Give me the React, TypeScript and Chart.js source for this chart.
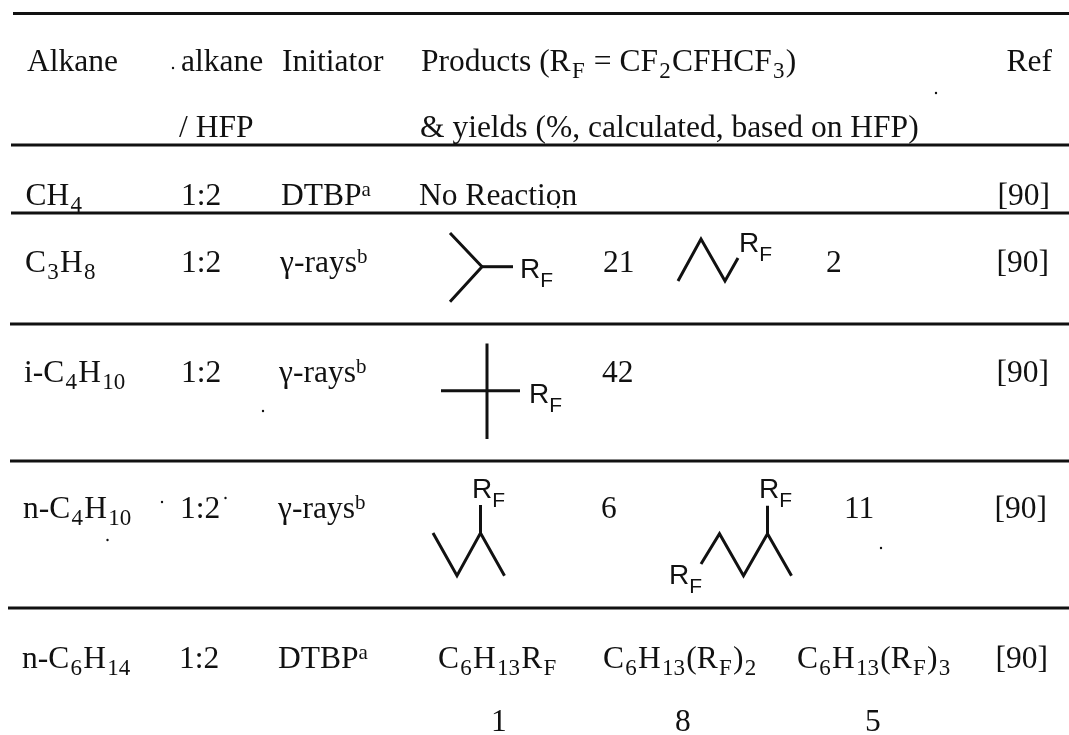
import React, { useEffect, useRef } from "react";
import { Chart, registerables } from "chart.js";

Chart.register(...registerables);

// ---- table content ----
const headerLine1 = ["Alkane", "alkane", "Initiator", "Products (R_{F} = CF_{2}CFHCF_{3})", "Ref"];
const headerLine2 = ["/ HFP", "& yields (%, calculated, based on HFP)"];
const alkanes = ["CH_{4}", "C_{3}H_{8}", "i-C_{4}H_{10}", "n-C_{4}H_{10}", "n-C_{6}H_{14}"];
const ratios = ["1:2", "1:2", "1:2", "1:2", "1:2"];
const initiators = ["DTBP^{a}", "γ-rays^{b}", "γ-rays^{b}", "γ-rays^{b}", "DTBP^{a}"];
const refs = ["[90]", "[90]", "[90]", "[90]", "[90]"];
const noReaction = "No Reaction";
const yields = ["21", "2", "42", "6", "11", "1", "8", "5"];
const hexaneProducts = ["C_{6}H_{13}R_{F}", "C_{6}H_{13}(R_{F})_{2}", "C_{6}H_{13}(R_{F})_{3}"];
const structureLabel = "R_{F}";

// ---- layout in axis units ----
const rowBaselines = [205, 272, 382, 518, 668];
const alkaneX = [25.5, 25, 24, 23, 22];
const ratioX = [181, 181, 181, 180, 179];
const initiatorX = [281, 280, 279, 278, 278];
const refRight = [1050, 1049, 1049, 1047, 1048];
const header1X = [27, 181, 282, 421];
const yieldPos = [[603, 272], [826, 272], [602, 382], [601, 518], [844, 518], [491, 731], [675, 731], [865, 731]];
const hexaneX = [438, 603, 797];
const labelPos = [[520, 278], [739, 251.5], [529, 402.5], [472, 498], [759, 498], [669, 584]];

const ruleY = [13.5, 145, 213, 324, 461, 608];
const ruleStart = [13, 11, 11, 10, 10, 8];

const bonds: number[][][] = [
  [[450, 233], [482, 266.7], [450, 301.7]],
  [[482, 266.7], [513, 266.7]],
  [[678, 281], [701, 239], [725, 281], [738, 258]],
  [[487, 343.5], [487, 439]],
  [[441, 390.7], [520, 390.7]],
  [[480.5, 505], [480.5, 533]],
  [[433, 533], [457, 575.7], [480.5, 533], [504.5, 575.7]],
  [[701, 564], [719.5, 533.7], [743.5, 575.7], [767.5, 533.7], [791.5, 575.7]],
  [[767.5, 505.7], [767.5, 533.7]],
];

const specks = [[173, 68], [936, 93], [881, 548], [162, 502], [225.5, 498], [107.5, 540], [263, 411], [558, 207]];

const INK = "#111111";
const SERIF = '"Liberation Serif", serif';
const SANS = '"Liberation Sans", sans-serif';

type Run = { t: string; kind: "n" | "sub" | "sup" };
function parse(s: string): Run[] {
  const out: Run[] = [];
  const re = /([_^])\{([^}]*)\}|([^_^]+)/g;
  let m: RegExpExecArray | null;
  while ((m = re.exec(s))) {
    if (m[3]) out.push({ t: m[3], kind: "n" });
    else out.push({ t: m[2], kind: m[1] === "_" ? "sub" : "sup" });
  }
  return out;
}

function drawRich(
  ctx: CanvasRenderingContext2D,
  s: string,
  x: number,
  y: number,
  opts: {
    family?: string;
    size?: number;
    align?: "left" | "right";
    subDrop?: number;
    subScale?: number;
    subPad?: number;
  } = {}
) {
  const family = opts.family || SERIF;
  const size = opts.size || 31.5;
  const pad = opts.subPad ?? 1.25;
  const runs = parse(s);
  const fontFor = (r: Run) =>
    `${r.kind === "n" ? size : Math.round(size * (r.kind === "sub" ? opts.subScale ?? 0.72 : 0.66))}px ${family}`;
  let w = 0;
  runs.forEach((r) => {
    ctx.font = fontFor(r);
    w += ctx.measureText(r.t).width + (r.kind === "sub" ? pad * 2 : 0);
  });
  let cx = opts.align === "right" ? x - w : x;
  ctx.textBaseline = "alphabetic";
  ctx.textAlign = "left";
  ctx.fillStyle = INK;
  runs.forEach((r) => {
    ctx.font = fontFor(r);
    const dy = r.kind === "sub" ? opts.subDrop ?? 6.5 : r.kind === "sup" ? -9 : 0;
    if (r.kind === "sub") cx += pad;
    ctx.fillText(r.t, cx, y + dy);
    cx += ctx.measureText(r.t).width;
    if (r.kind === "sub") cx += pad;
  });
}

const tablePlugin = {
  id: "tableText",
  afterDatasetsDraw(chart: any) {
    const { ctx, scales } = chart;
    const X = (v: number) => scales.x.getPixelForValue(v);
    const Y = (v: number) => scales.y.getPixelForValue(v);
    ctx.save();
    headerLine1.slice(0, 4).forEach((t, i) => drawRich(ctx, t, X(header1X[i]), Y(71)));
    drawRich(ctx, headerLine1[4], X(1052), Y(71), { align: "right" });
    drawRich(ctx, headerLine2[0], X(179), Y(137));
    drawRich(ctx, headerLine2[1], X(420), Y(137));
    alkanes.forEach((t, i) => {
      drawRich(ctx, t, X(alkaneX[i]), Y(rowBaselines[i]));
      drawRich(ctx, ratios[i], X(ratioX[i]), Y(rowBaselines[i]));
      drawRich(ctx, initiators[i], X(initiatorX[i]), Y(rowBaselines[i]));
      drawRich(ctx, refs[i], X(refRight[i]), Y(rowBaselines[i]), { align: "right" });
    });
    drawRich(ctx, noReaction, X(419), Y(rowBaselines[0]));
    yields.forEach((t, i) => drawRich(ctx, t, X(yieldPos[i][0]), Y(yieldPos[i][1])));
    hexaneProducts.forEach((t, i) => drawRich(ctx, t, X(hexaneX[i]), Y(rowBaselines[4])));
    labelPos.forEach((p) =>
      drawRich(ctx, structureLabel, X(p[0]), Y(p[1]), { family: SANS, size: 28, subDrop: 9, subScale: 0.74, subPad: 0 })
    );
    ctx.restore();
  },
};

const toXY = (pts: number[][]) => pts.map((p) => ({ x: p[0], y: p[1] }));

export default function App() {
  const ref = useRef<HTMLCanvasElement>(null);
  useEffect(() => {
    document.body.style.margin = "0";
    document.body.style.background = "#ffffff";
    const datasets: any[] = [
      ...ruleY.map((y, i) => ({
        data: toXY([[ruleStart[i], y], [1069, y]]),
        borderColor: INK,
        borderWidth: 3,
        pointRadius: 0,
        showLine: true,
        tension: 0,
      })),
      ...bonds.map((b) => ({
        data: toXY(b),
        borderColor: INK,
        borderWidth: 3,
        pointRadius: 0,
        showLine: true,
        tension: 0,
        borderJoinStyle: "miter",
      })),
      {
        data: toXY(specks),
        showLine: false,
        pointRadius: 1.2,
        pointBackgroundColor: INK,
        pointBorderWidth: 0,
      },
    ];
    const chart = new Chart(ref.current as HTMLCanvasElement, {
      type: "scatter",
      data: { datasets },
      options: {
        animation: false,
        responsive: false,
        events: [],
        layout: { padding: 0, autoPadding: false },
        plugins: { legend: { display: false }, tooltip: { enabled: false }, title: { display: false } },
        scales: {
          x: { type: "linear", min: 0, max: 1069, display: false },
          y: { type: "linear", min: 0, max: 735, reverse: true, display: false },
        },
      },
      plugins: [tablePlugin],
    } as any);
    return () => chart.destroy();
  }, []);
  return (
    <div style={{ width: 1069, height: 735, background: "#fff" }}>
      <canvas ref={ref} width={1069} height={735} style={{ display: "block" }} />
    </div>
  );
}
